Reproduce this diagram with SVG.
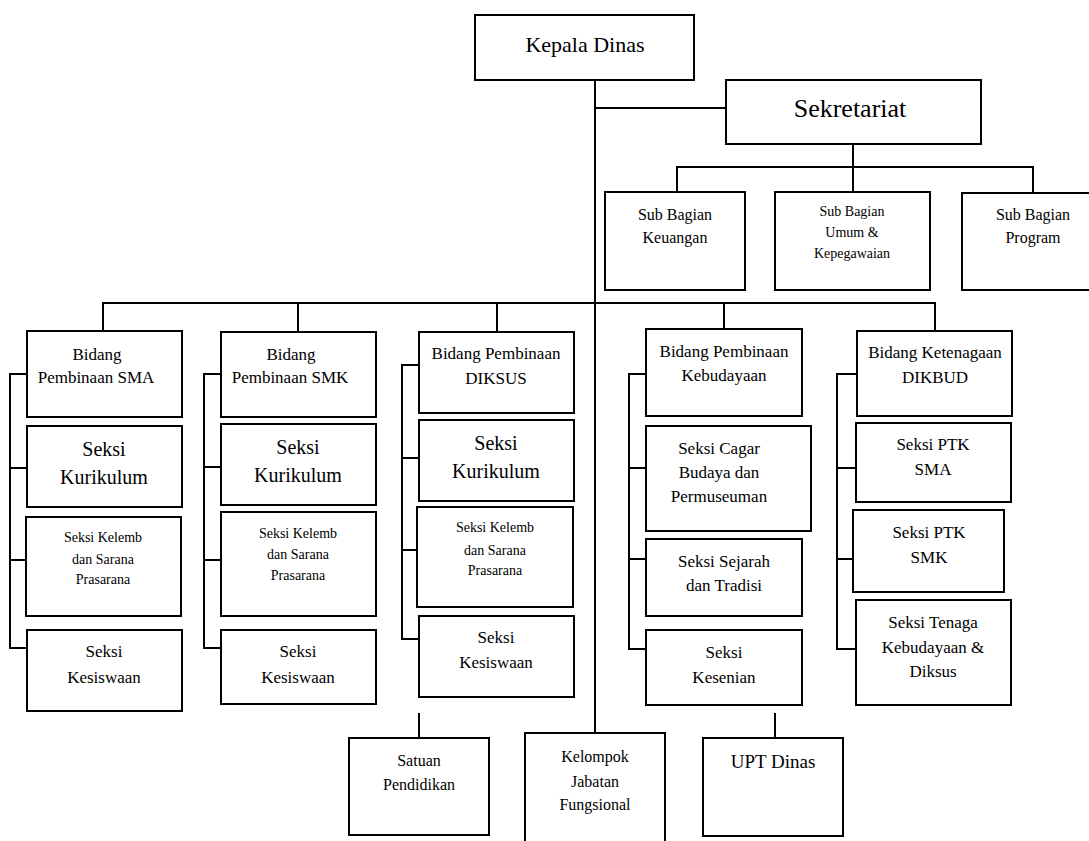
<svg xmlns="http://www.w3.org/2000/svg" width="1089" height="841" viewBox="0 0 1089 841">
<style>
rect{fill:#fff;stroke:#000;stroke-width:2}
.c line,.c polyline{stroke:#000;stroke-width:2;fill:none}
.t text{fill:#000;text-anchor:middle;font-family:Liberation Serif,Tinos,Nimbus Roman,Nimbus Roman No9 L,Noto Serif,FreeSerif,Times New Roman,Times,DejaVu Serif,serif}
.xl{font-size:26px}.l{font-size:20px}.m{font-size:17px}.s{font-size:14px}.ms{font-size:16px}
</style>
<rect x="0" y="0" width="1089" height="841" style="stroke:none"/>
<g class="c" id="connectors">
<line x1="595" y1="80" x2="595" y2="733"/>
<line x1="595" y1="108" x2="726" y2="108"/>
<line x1="853" y1="144" x2="853" y2="192"/>
<polyline points="677,192 677,167 1033,167 1033,193"/>
<polyline points="103,331 103,303 935,303 935,331"/>
<line x1="298" y1="303" x2="298" y2="332"/>
<line x1="497" y1="303" x2="497" y2="332"/>
<line x1="724" y1="303" x2="724" y2="329"/>
<polyline points="27,374 10,374 10,648 27,648"/>
<line x1="10" y1="468" x2="27" y2="468"/>
<line x1="10" y1="560" x2="26" y2="560"/>
<polyline points="221,374 204,374 204,648 221,648"/>
<line x1="204" y1="467" x2="221" y2="467"/>
<line x1="204" y1="560" x2="221" y2="560"/>
<polyline points="419,365 402,365 402,639 419,639"/>
<line x1="402" y1="458" x2="419" y2="458"/>
<line x1="402" y1="550" x2="417" y2="550"/>
<polyline points="646,374 629,374 629,649 646,649"/>
<line x1="629" y1="468" x2="646" y2="468"/>
<line x1="629" y1="559" x2="646" y2="559"/>
<polyline points="857,374 837,374 837,649 856,649"/>
<line x1="837" y1="468" x2="856" y2="468"/>
<line x1="837" y1="559" x2="853" y2="559"/>
<line x1="419" y1="713" x2="419" y2="738"/>
<line x1="775" y1="713" x2="775" y2="738"/>
</g>
<g class="t">
<g id="kepala"><rect x="475" y="15" width="219" height="65"/><text x="585" y="52" font-size="22">Kepala Dinas</text></g>
<g id="sekretariat"><rect x="726" y="80" width="255" height="64"/><text class="xl" x="850" y="117">Sekretariat</text></g>
<g id="keuangan"><rect x="605" y="192" width="140" height="98"/><text class="ms" x="675" y="220">Sub Bagian</text><text class="ms" x="675" y="243">Keuangan</text></g>
<g id="umum"><rect x="775" y="192" width="155" height="98"/><text class="s" x="852" y="216">Sub Bagian</text><text class="s" x="852" y="237">Umum &amp;</text><text class="s" x="852" y="258">Kepegawaian</text></g>
<g id="program"><rect x="962" y="193" width="140" height="97"/><text class="ms" x="1033" y="220">Sub Bagian</text><text class="ms" x="1033" y="243">Program</text></g>
<g id="bidang-sma"><rect x="27" y="331" width="155" height="86"/><text class="m" x="97" y="360">Bidang</text><text class="m" x="96" y="383">Pembinaan SMA</text></g>
<g id="kurikulum-sma"><rect x="27" y="426" width="155" height="81"/><text class="l" x="104" y="456">Seksi</text><text class="l" x="104" y="484">Kurikulum</text></g>
<g id="kelemb-sma"><rect x="26" y="517" width="155" height="99"/><text class="s" x="103" y="542">Seksi Kelemb</text><text class="s" x="103" y="564">dan Sarana</text><text class="s" x="103" y="584">Prasarana</text></g>
<g id="kesiswaan-sma"><rect x="27" y="630" width="155" height="81"/><text class="m" x="104" y="657">Seksi</text><text class="m" x="104" y="683">Kesiswaan</text></g>
<g id="bidang-smk"><rect x="221" y="332" width="155" height="85"/><text class="m" x="291" y="360">Bidang</text><text class="m" x="290" y="383">Pembinaan SMK</text></g>
<g id="kurikulum-smk"><rect x="221" y="424" width="155" height="81"/><text class="l" x="298" y="454">Seksi</text><text class="l" x="298" y="482">Kurikulum</text></g>
<g id="kelemb-smk"><rect x="221" y="512" width="155" height="104"/><text class="s" x="298" y="538">Seksi Kelemb</text><text class="s" x="298" y="559">dan Sarana</text><text class="s" x="298" y="580">Prasarana</text></g>
<g id="kesiswaan-smk"><rect x="221" y="630" width="155" height="74"/><text class="m" x="298" y="657">Seksi</text><text class="m" x="298" y="683">Kesiswaan</text></g>
<g id="bidang-diksus"><rect x="419" y="332" width="155" height="81"/><text class="m" x="496" y="359">Bidang Pembinaan</text><text class="m" x="496" y="384">DIKSUS</text></g>
<g id="kurikulum-diksus"><rect x="419" y="420" width="155" height="81"/><text class="l" x="496" y="450">Seksi</text><text class="l" x="496" y="478">Kurikulum</text></g>
<g id="kelemb-diksus"><rect x="417" y="507" width="156" height="100"/><text class="s" x="495" y="532">Seksi Kelemb</text><text class="s" x="495" y="555">dan Sarana</text><text class="s" x="495" y="575">Prasarana</text></g>
<g id="kesiswaan-diksus"><rect x="419" y="616" width="155" height="81"/><text class="m" x="496" y="643">Seksi</text><text class="m" x="496" y="668">Kesiswaan</text></g>
<g id="bidang-kebudayaan"><rect x="646" y="329" width="156" height="87"/><text class="m" x="724" y="357">Bidang Pembinaan</text><text class="m" x="724" y="381">Kebudayaan</text></g>
<g id="cagar"><rect x="646" y="426" width="165" height="105"/><text class="m" x="719" y="454">Seksi Cagar</text><text class="m" x="719" y="478">Budaya dan</text><text class="m" x="719" y="502">Permuseuman</text></g>
<g id="sejarah"><rect x="646" y="539" width="156" height="77"/><text class="m" x="724" y="567">Seksi Sejarah</text><text class="m" x="724" y="591">dan Tradisi</text></g>
<g id="kesenian"><rect x="646" y="630" width="156" height="75"/><text class="m" x="724" y="658">Seksi</text><text class="m" x="724" y="683">Kesenian</text></g>
<g id="bidang-dikbud"><rect x="857" y="331" width="155" height="85"/><text class="m" x="935" y="358">Bidang Ketenagaan</text><text class="m" x="935" y="383">DIKBUD</text></g>
<g id="ptk-sma"><rect x="856" y="423" width="155" height="79"/><text class="m" x="933" y="450">Seksi PTK</text><text class="m" x="933" y="475">SMA</text></g>
<g id="ptk-smk"><rect x="853" y="510" width="151" height="82"/><text class="m" x="929" y="538">Seksi PTK</text><text class="m" x="929" y="563">SMK</text></g>
<g id="tenaga"><rect x="856" y="600" width="155" height="105"/><text class="m" x="933" y="628">Seksi Tenaga</text><text class="m" x="933" y="653">Kebudayaan &amp;</text><text class="m" x="933" y="677">Diksus</text></g>
<g id="satuan"><rect x="349" y="738" width="140" height="97"/><text class="ms" x="419" y="766">Satuan</text><text class="ms" x="419" y="790">Pendidikan</text></g>
<g id="kelompok"><rect x="525" y="733" width="140" height="120"/><text class="ms" x="595" y="762">Kelompok</text><text class="ms" x="595" y="787">Jabatan</text><text class="ms" x="595" y="810">Fungsional</text></g>
<g id="upt"><rect x="703" y="738" width="140" height="98"/><text x="773" y="768" font-size="19">UPT Dinas</text></g>
</g>
</svg>
